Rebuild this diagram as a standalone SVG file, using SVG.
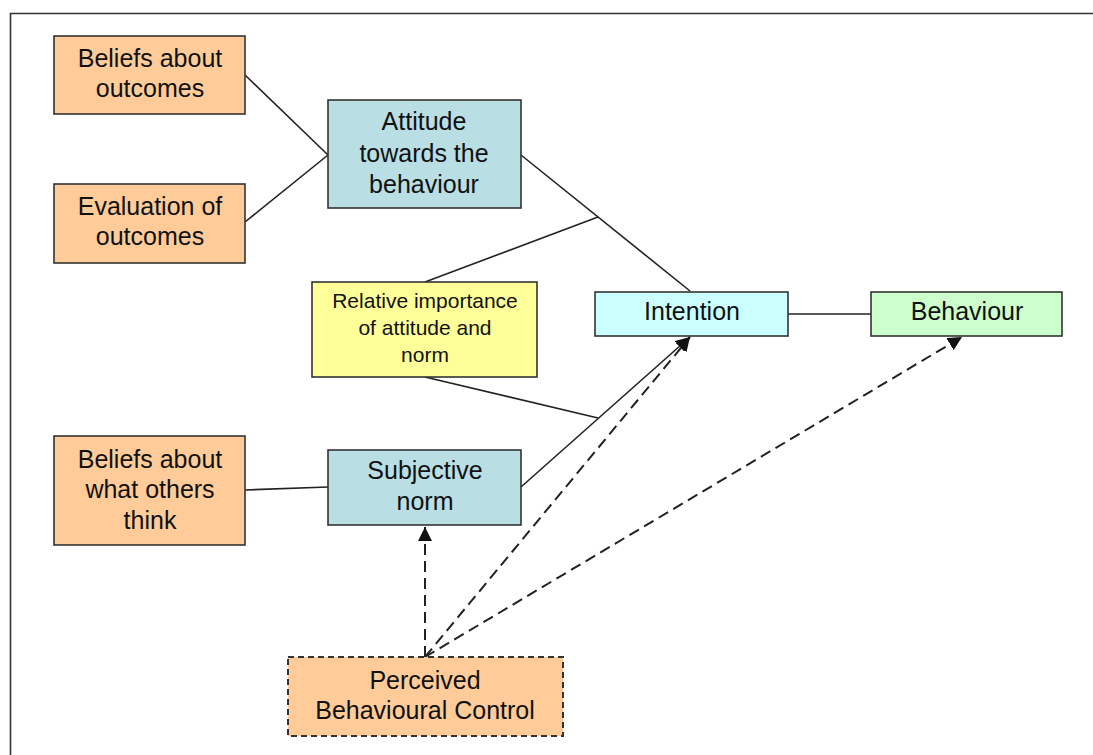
<svg xmlns="http://www.w3.org/2000/svg" width="1093" height="755" viewBox="0 0 1093 755">
  <style>
    .box { stroke: #333; stroke-width: 1.6; }
    .orange { fill: #FFCC99; }
    .teal { fill: #B9DFE4; }
    .yellow { fill: #FFFF99; }
    .cyan { fill: #CCFFFF; }
    .green { fill: #CCFFCC; }
    .dashbox { stroke-dasharray: 6 4; stroke-width: 2; }
    text { font-family: "Liberation Sans", Arial, sans-serif; font-size: 25px; fill: #111; text-anchor: middle; }
    text.small { font-size: 21px; }
    .line { stroke: #222; stroke-width: 1.6; fill: none; }
    .dash { stroke: #222; stroke-width: 2; fill: none; stroke-dasharray: 11 6; }
  </style>
  <defs>
    <marker id="arrow" viewBox="0 0 10 10" refX="10" refY="5" markerWidth="14" markerHeight="14" markerUnits="userSpaceOnUse" orient="auto">
      <path d="M0,0 L10,5 L0,10 z" fill="#111"/>
    </marker>
  </defs>

  <rect width="1093" height="755" fill="#fff"/>
  <!-- page frame -->
  <path d="M10.5,755 V13.5 H1093" fill="none" stroke="#333" stroke-width="1.6"/>

  <g id="connectors">
    <line class="line" x1="245" y1="75" x2="328" y2="155"/>
    <line class="line" x1="245" y1="222" x2="328" y2="155"/>
    <line class="line" x1="521" y1="155" x2="690" y2="291"/>
    <line class="line" x1="425" y1="282" x2="598" y2="217"/>
    <line class="line" x1="425" y1="377" x2="598" y2="418"/>
    <line class="line" x1="245" y1="490" x2="328" y2="487"/>
    <line class="line" x1="521" y1="487" x2="690" y2="337" marker-end="url(#arrow)"/>
    <line class="line" x1="788" y1="314" x2="871" y2="314"/>
    <line class="dash" x1="425" y1="657" x2="425" y2="527" marker-end="url(#arrow)"/>
    <line class="dash" x1="425" y1="657" x2="690" y2="337" marker-end="url(#arrow)"/>
    <line class="dash" x1="425" y1="657" x2="962" y2="337" marker-end="url(#arrow)"/>
  </g>

  <g id="beliefs-outcomes">
    <rect class="box orange" x="54" y="36" width="191" height="78"/>
    <text x="150" y="67">Beliefs about</text>
    <text x="150" y="97">outcomes</text>
  </g>
  <g id="evaluation-outcomes">
    <rect class="box orange" x="54" y="184" width="191" height="79"/>
    <text x="150" y="215">Evaluation of</text>
    <text x="150" y="245">outcomes</text>
  </g>
  <g id="attitude">
    <rect class="box teal" x="328" y="100" width="193" height="108"/>
    <text x="424" y="130">Attitude</text>
    <text x="424" y="162">towards the</text>
    <text x="424" y="193">behaviour</text>
  </g>
  <g id="relative-importance">
    <rect class="box yellow" x="312" y="282" width="225" height="95"/>
    <text class="small" x="425" y="308">Relative importance</text>
    <text class="small" x="425" y="335">of attitude and</text>
    <text class="small" x="425" y="362">norm</text>
  </g>
  <g id="intention">
    <rect class="box cyan" x="595" y="292" width="193" height="44"/>
    <text x="692" y="320">Intention</text>
  </g>
  <g id="behaviour">
    <rect class="box green" x="871" y="292" width="191" height="44"/>
    <text x="967" y="320">Behaviour</text>
  </g>
  <g id="beliefs-others">
    <rect class="box orange" x="54" y="436" width="191" height="109"/>
    <text x="150" y="468">Beliefs about</text>
    <text x="150" y="498">what others</text>
    <text x="150" y="529">think</text>
  </g>
  <g id="subjective-norm">
    <rect class="box teal" x="328" y="450" width="193" height="75"/>
    <text x="425" y="479">Subjective</text>
    <text x="425" y="510">norm</text>
  </g>
  <g id="perceived-control">
    <rect class="box orange dashbox" x="288" y="657" width="275" height="79"/>
    <text x="425" y="689">Perceived</text>
    <text x="425" y="719">Behavioural Control</text>
  </g>
</svg>
